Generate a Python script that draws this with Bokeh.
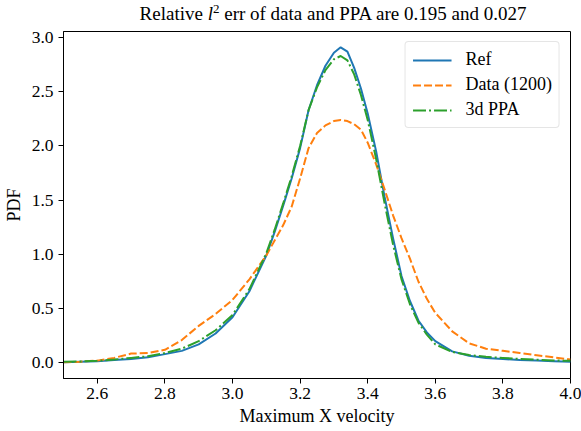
from bokeh.plotting import figure
from bokeh.models import Range1d, Legend, LegendItem, FixedTicker, Div
from bokeh.layouts import column
from bokeh.embed import file_html
from bokeh.resources import INLINE

# Velocity grid shared by the three density estimates
x_vel = [2.50, 2.55, 2.60, 2.65, 2.70, 2.75, 2.80, 2.85, 2.90, 2.95,
         3.00, 3.05, 3.10, 3.125, 3.15, 3.175, 3.20, 3.225, 3.25, 3.275,
         3.30, 3.32, 3.34, 3.36, 3.38, 3.40, 3.425, 3.45, 3.475, 3.50,
         3.525, 3.55, 3.575, 3.60, 3.65, 3.70, 3.75, 3.80, 3.85, 3.90,
         3.95, 4.00]

# Reference PDF
pdf_ref = [0.005, 0.010, 0.015, 0.025, 0.035, 0.050, 0.080, 0.110, 0.170, 0.270,
           0.420, 0.660, 0.990, 1.210, 1.450, 1.700, 1.980, 2.330, 2.560, 2.740,
           2.860, 2.910, 2.870, 2.720, 2.530, 2.300, 1.950, 1.530, 1.150, 0.800,
           0.570, 0.390, 0.280, 0.200, 0.105, 0.065, 0.045, 0.035, 0.025, 0.020,
           0.015, 0.010]

# Empirical PDF from 1200 samples
pdf_data = [0.005, 0.010, 0.020, 0.045, 0.085, 0.090, 0.120, 0.210, 0.340, 0.450,
            0.580, 0.770, 0.990, 1.130, 1.270, 1.440, 1.700, 1.980, 2.120, 2.190,
            2.230, 2.240, 2.230, 2.200, 2.150, 2.030, 1.830, 1.600, 1.360, 1.150,
            0.960, 0.750, 0.590, 0.460, 0.290, 0.180, 0.130, 0.110, 0.090, 0.070,
            0.050, 0.030]

# 3d PPA estimate
pdf_ppa = [0.010, 0.012, 0.018, 0.030, 0.045, 0.060, 0.090, 0.130, 0.200, 0.300,
           0.440, 0.680, 1.010, 1.230, 1.470, 1.720, 2.000, 2.330, 2.540, 2.700,
           2.800, 2.830, 2.790, 2.660, 2.470, 2.240, 1.880, 1.470, 1.090, 0.770,
           0.540, 0.370, 0.260, 0.170, 0.100, 0.072, 0.055, 0.045, 0.035, 0.028,
           0.022, 0.018]

x_ticks = [2.6, 2.8, 3.0, 3.2, 3.4, 3.6, 3.8, 4.0]
y_ticks = [0.0, 0.5, 1.0, 1.5, 2.0, 2.5, 3.0]

SERIF = "Liberation Serif"

p = figure(width=581, height=410, output_backend="svg", toolbar_location=None,
           x_range=Range1d(2.5, 4.0), y_range=Range1d(-0.145, 3.056),
           min_border_left=62, min_border_right=11, min_border_top=10,
           min_border_bottom=53, margin=0)
p.background_fill_color = "white"
p.border_fill_color = "white"
p.outline_line_color = "black"
p.outline_line_width = 1
p.grid.visible = False

for ax in (p.xaxis[0], p.yaxis[0]):
    ax.axis_line_color = "black"
    ax.axis_line_width = 1
    ax.major_tick_line_color = "black"
    ax.major_tick_line_width = 1
    ax.major_tick_out = 5
    ax.major_tick_in = 0
    ax.minor_tick_out = 0
    ax.minor_tick_in = 0
    ax.major_label_text_font = SERIF
    ax.major_label_text_font_size = "17.5px"
    ax.major_label_text_color = "black"
    ax.axis_label_text_font = SERIF
    ax.axis_label_text_font_size = "18px"
    ax.axis_label_text_font_style = "normal"
    ax.axis_label_text_color = "black"

p.xaxis[0].ticker = FixedTicker(ticks=x_ticks)
p.yaxis[0].ticker = FixedTicker(ticks=y_ticks)
p.xaxis[0].major_label_overrides = {t: f"{t:.1f}" for t in x_ticks}
p.yaxis[0].major_label_overrides = {t: f"{t:.1f}" for t in y_ticks}
p.xaxis[0].axis_label = "Maximum X velocity"
p.yaxis[0].axis_label = "PDF"
p.xaxis[0].major_label_standoff = 4
p.yaxis[0].major_label_standoff = 5
p.xaxis[0].axis_label_standoff = 4
p.yaxis[0].axis_label_standoff = 5

r_ref = p.line(x_vel, pdf_ref, line_color="#1f77b4", line_width=2)
r_data = p.line(x_vel, pdf_data, line_color="#ff7f0e", line_width=2,
                line_dash="8 3")
r_ppa = p.line(x_vel, pdf_ppa, line_color="#2ca02c", line_width=2,
               line_dash="13 3 2 3")

legend = Legend(items=[LegendItem(label="Ref", renderers=[r_ref]),
                       LegendItem(label="Data (1200)", renderers=[r_data]),
                       LegendItem(label="3d PPA", renderers=[r_ppa])],
                location="top_right", margin=10, padding=7, spacing=4,
                glyph_width=39, glyph_height=20, label_height=20,
                label_standoff=14,
                label_text_font=SERIF, label_text_font_size="18px",
                label_text_color="black",
                border_line_color="#cccccc", border_line_width=1,
                background_fill_color="white", background_fill_alpha=0.8)
if "border_radius" in Legend.properties():
    legend.border_radius = 4
p.add_layout(legend)

# Title with an italic l and superscript 2
title = Div(
    text=("Relative <i>l</i><sup style='font-size:13px;vertical-align:7px;"
          "line-height:0'>2</sup> err of data and PPA are 0.195 and 0.027"),
    width=581, height=21, margin=0,
    styles={"font-family": SERIF, "font-size": "19px", "color": "black",
            "text-align": "center", "padding-left": "85px",
            "box-sizing": "border-box", "line-height": "21px",
            "padding-top": "3px", "white-space": "nowrap"})

layout = column(title, p, spacing=0, margin=0)

open("out.html", "w").write(file_html(layout, INLINE))
